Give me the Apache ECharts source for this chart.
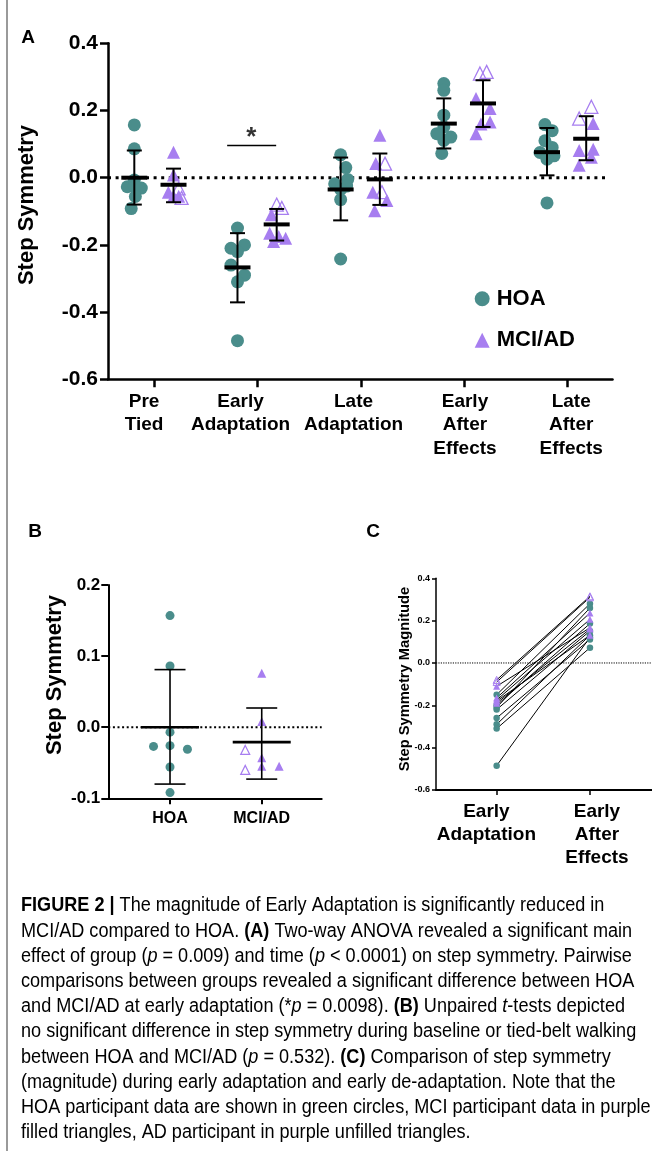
<!DOCTYPE html>
<html>
<head>
<meta charset="utf-8">
<script src="https://cdn.jsdelivr.net/npm/echarts@6/dist/echarts.min.js"></script>
<style>
html, body { margin: 0; padding: 0; background: #fff; }
#main { width: 652px; height: 1151px; }
</style>
</head>
<body>
<div id="main"></div>
<script>
// ---------- data ----------
var timePoints = ['Pre\nTied', 'Early\nAdaptation', 'Late\nAdaptation', 'Early\nAfter\nEffects', 'Late\nAfter\nEffects'];
var groupsB = ['HOA', 'MCI/AD'];
var timesC = ['Early\nAdaptation', 'Early\nAfter\nEffects'];
var yTicksA = [-0.6, -0.4, -0.2, 0.0, 0.2, 0.4];
var yTicksB = [-0.1, 0.0, 0.1, 0.2];
var yTicksC = [-0.6, -0.4, -0.2, 0.0, 0.2, 0.4];

// HOA participants (same order in every array)
var hoaPre        = [0.157, 0.086, -0.007, -0.027, -0.026, -0.031, -0.056, -0.092];
var hoaEarlyAdapt = [-0.15, -0.20, -0.21, -0.22, -0.26, -0.29, -0.31, -0.485];
var hoaLateAdapt  = [0.068, 0.03, -0.005, -0.018, -0.025, -0.035, -0.065, -0.242];
var hoaEarlyAE    = [0.28, 0.186, 0.26, 0.151, 0.111, 0.131, 0.072, 0.121];
var hoaLateAE     = [0.158, 0.14, 0.11, 0.09, 0.075, 0.065, 0.055, -0.075];

// MCI participants (filled triangles)
var mciPre        = [0.076, 0.008, -0.043, -0.055, -0.055];
var mciEarlyAdapt = [-0.11, -0.165, -0.175, -0.18, -0.19];
var mciLateAdapt  = [0.126, 0.042, -0.043, -0.068, -0.098];
var mciEarlyAE    = [0.166, 0.236, 0.206, 0.131, 0.16];
var mciLateAE     = [0.161, 0.081, 0.061, 0.037, 0.085];

// AD participants (unfilled triangles)
var adPre        = [-0.032, -0.060];
var adEarlyAdapt = [-0.08, -0.09];
var adLateAdapt  = [0.042, -0.043];
var adEarlyAE    = [0.315, 0.31];
var adLateAE     = [0.211, 0.176];

// group mean and error bar ends
var hoaMean   = [0.0, -0.267, -0.035, 0.161, 0.076];
var hoaLow    = [-0.080, -0.371, -0.127, 0.087, 0.007];
var hoaHigh   = [0.081, -0.165, 0.060, 0.236, 0.148];
var mciadMean = [-0.021, -0.139, -0.005, 0.221, 0.116];
var mciadLow  = [-0.073, -0.187, -0.081, 0.151, 0.052];
var mciadHigh = [0.027, -0.093, 0.072, 0.290, 0.183];

// significance bracket over Early Adaptation
var sigBarA = [[0.705, 0.096], [1.18, 0.096]];
var sigStarA = [0.94, 0.118];

// ---------- layout / style ----------
var teal = '#4a8d8b';
var purple = '#a77ef0';
var font = '"Liberation Sans", Arial, Helvetica, sans-serif';
var capFont = '"Liberation Sans", Arial, sans-serif';

var hoaShift = -0.195, mciShift = 0.185;
// horizontal scatter of the points inside each column (axis units)
var jitHoa = [
  [0, 0, 0, -0.068, 0, 0.068, 0.01, -0.03],
  [0, 0.068, -0.063, 0, -0.063, 0.068, 0, 0],
  [0, 0.05, 0.068, -0.058, 0.058, 0, 0, 0],
  [0, 0, 0, 0, 0, -0.068, -0.02, 0.068],
  [-0.02, 0.05, -0.02, 0.05, -0.068, 0.068, 0, 0]
];
var jitMci = [
  [0, 0, -0.05, 0, 0.05],
  [-0.05, -0.068, 0.02, 0.087, -0.03],
  [0, -0.04, -0.068, 0.068, -0.05],
  [0.068, -0.068, 0.068, -0.068, -0.02],
  [0.068, -0.068, 0.05, -0.068, 0.068]
];
var jitAd = [[0.05, 0.078], [0, 0.05], [0.05, 0.02], [0.035, -0.03], [0.05, -0.068]];
var jitHoaB = [0, 0, 0, -0.18, 0, 0.19, 0, 0];
var jitMciB = [0, 0, 0, 0, 0.19];
var jitAdB = [-0.18, -0.18];
var labelPosA = [-0.1, 0.835, 1.93, 3.01, 4.04];
var labelPosC = [-0.11, 1.075];

var hoaAll = [hoaPre, hoaEarlyAdapt, hoaLateAdapt, hoaEarlyAE, hoaLateAE];
var mciAll = [mciPre, mciEarlyAdapt, mciLateAdapt, mciEarlyAE, mciLateAE];
var adAll  = [adPre, adEarlyAdapt, adLateAdapt, adEarlyAE, adLateAE];

function pts(vals, jit, shift) {
  var out = [];
  for (var t = 0; t < vals.length; t++) {
    for (var i = 0; i < vals[t].length; i++) {
      out.push([t + shift + jit[t][i], vals[t][i]]);
    }
  }
  return out;
}
function ptsOne(vals, jit, x) {
  return vals.map(function (v, i) { return [x + jit[i], v]; });
}
function fmt1(v) { return Math.abs(v) < 1e-9 ? '0.0' : v.toFixed(1); }
function pickLabel(list, pos) {
  return function (v) {
    var best = 0;
    for (var i = 1; i < pos.length; i++) {
      if (Math.abs(pos[i] - v) < Math.abs(pos[best] - v)) best = i;
    }
    return list[best];
  };
}

function errRender(meanHalf, capHalf, meanW, barW) {
  return function (params, api) {
    var x = api.value(0);
    var m = api.coord([x, api.value(1)]);
    var lo = api.coord([x, api.value(2)]);
    var hi = api.coord([x, api.value(3)]);
    var st = { stroke: '#000', lineWidth: barW };
    return {
      type: 'group',
      children: [
        { type: 'line', shape: { x1: m[0], y1: hi[1], x2: m[0], y2: lo[1] }, style: st },
        { type: 'line', shape: { x1: m[0] - capHalf, y1: hi[1], x2: m[0] + capHalf, y2: hi[1] }, style: st },
        { type: 'line', shape: { x1: m[0] - capHalf, y1: lo[1], x2: m[0] + capHalf, y2: lo[1] }, style: st },
        { type: 'line', shape: { x1: m[0] - meanHalf, y1: m[1], x2: m[0] + meanHalf, y2: m[1] }, style: { stroke: '#000', lineWidth: meanW } }
      ]
    };
  };
}

var errA = [];
for (var t = 0; t < timePoints.length; t++) {
  errA.push([t + hoaShift, hoaMean[t], hoaLow[t], hoaHigh[t]]);
  errA.push([t + mciShift, mciadMean[t], mciadLow[t], mciadHigh[t]]);
}
var errB = [
  [0, hoaMean[0], hoaLow[0], hoaHigh[0]],
  [1, mciadMean[0], mciadLow[0], mciadHigh[0]]
];

var lbl = { color: '#000', fontWeight: 'bold', fontFamily: font };
function axisLineStyle(w) { return { show: true, onZero: false, lineStyle: { color: '#000', width: w } }; }

var xRangeA = [-0.45, 4.44], xRangeB = [-0.673, 1.654], xRangeC = [-0.65, 1.665];

var series = [
  // ---- panel A ----
  { type: 'line', xAxisIndex: 0, yAxisIndex: 0, data: [[xRangeA[0], 0], [4.4, 0]], symbol: 'none', silent: true,
    lineStyle: { color: '#000', width: 3, type: [3, 4.6] }, z: 1 },
  { name: 'HOA', type: 'scatter', xAxisIndex: 0, yAxisIndex: 0, symbol: 'circle', symbolSize: 13,
    itemStyle: { color: teal, opacity: 1 }, data: pts(hoaAll, jitHoa, hoaShift), z: 2 },
  { name: 'MCI/AD', type: 'scatter', xAxisIndex: 0, yAxisIndex: 0, symbol: 'triangle', symbolSize: 13,
    itemStyle: { color: purple, opacity: 1 }, data: pts(mciAll, jitMci, mciShift), z: 2 },
  { name: 'AD', type: 'scatter', xAxisIndex: 0, yAxisIndex: 0, symbol: 'triangle', symbolSize: 13,
    itemStyle: { color: 'rgba(255,255,255,0)', borderColor: purple, borderWidth: 1.3, opacity: 1 },
    data: pts(adAll, jitAd, mciShift), z: 2 },
  { type: 'custom', xAxisIndex: 0, yAxisIndex: 0, renderItem: errRender(13, 7.5, 4, 2),
    encode: { x: 0, y: [1, 2, 3] }, data: errA, z: 3 },
  { type: 'line', xAxisIndex: 0, yAxisIndex: 0, data: sigBarA, symbol: 'none', silent: true,
    lineStyle: { color: '#000', width: 1.5 }, z: 3 },
  { type: 'scatter', xAxisIndex: 0, yAxisIndex: 0, data: [sigStarA], symbolSize: 1,
    itemStyle: { color: 'rgba(0,0,0,0)' },
    label: { show: true, position: 'inside', formatter: '*', color: '#000', fontSize: 26, fontWeight: 'bold', fontFamily: font }, z: 3 },

  // ---- panel B ----
  { type: 'line', xAxisIndex: 1, yAxisIndex: 1, data: [[xRangeB[0], 0], [xRangeB[1], 0]], symbol: 'none', silent: true,
    lineStyle: { color: '#000', width: 2, type: [2, 2.6] }, z: 1 },
  { name: 'HOA-B', type: 'scatter', xAxisIndex: 1, yAxisIndex: 1, symbol: 'circle', symbolSize: 9,
    itemStyle: { color: teal, opacity: 1 }, data: ptsOne(hoaPre, jitHoaB, 0), z: 2 },
  { name: 'MCI-B', type: 'scatter', xAxisIndex: 1, yAxisIndex: 1, symbol: 'triangle', symbolSize: 9,
    itemStyle: { color: purple, opacity: 1 }, data: ptsOne(mciPre, jitMciB, 1), z: 2 },
  { name: 'AD-B', type: 'scatter', xAxisIndex: 1, yAxisIndex: 1, symbol: 'triangle', symbolSize: 9,
    itemStyle: { color: 'rgba(255,255,255,0)', borderColor: purple, borderWidth: 1.2, opacity: 1 },
    data: ptsOne(adPre, jitAdB, 1), z: 2 },
  { type: 'custom', xAxisIndex: 1, yAxisIndex: 1, renderItem: errRender(29, 15.5, 2.6, 1.6),
    encode: { x: 0, y: [1, 2, 3] }, data: errB, z: 3 },

  // ---- panel C ----
  { type: 'line', xAxisIndex: 2, yAxisIndex: 2, data: [[xRangeC[0], 0], [xRangeC[1], 0]], symbol: 'none', silent: true,
    lineStyle: { color: '#000', width: 1, type: [1.2, 1.2] }, z: 1 }
];

function pairLines(a, b) {
  for (var i = 0; i < a.length; i++) {
    series.push({ type: 'line', xAxisIndex: 2, yAxisIndex: 2, data: [[0, a[i]], [1, b[i]]], symbol: 'none',
      silent: true, lineStyle: { color: '#000', width: 1 }, z: 2 });
  }
}
pairLines(hoaEarlyAdapt, hoaEarlyAE);
pairLines(mciEarlyAdapt, mciEarlyAE);
pairLines(adEarlyAdapt, adEarlyAE);

function pairPts(a, b) {
  return a.map(function (v) { return [0, v]; }).concat(b.map(function (v) { return [1, v]; }));
}
series.push(
  { name: 'HOA-C', type: 'scatter', xAxisIndex: 2, yAxisIndex: 2, symbol: 'circle', symbolSize: 6.5,
    itemStyle: { color: teal, opacity: 1 }, data: pairPts(hoaEarlyAdapt, hoaEarlyAE), z: 3 },
  { name: 'MCI-C', type: 'scatter', xAxisIndex: 2, yAxisIndex: 2, symbol: 'triangle', symbolSize: 7,
    itemStyle: { color: purple, opacity: 1 }, data: pairPts(mciEarlyAdapt, mciEarlyAE), z: 3 },
  { name: 'AD-C', type: 'scatter', xAxisIndex: 2, yAxisIndex: 2, symbol: 'triangle', symbolSize: 7,
    itemStyle: { color: 'rgba(255,255,255,0)', borderColor: purple, borderWidth: 1, opacity: 1 },
    data: pairPts(adEarlyAdapt, adEarlyAE), z: 3 }
);

// caption, one entry per printed line
var capLines = [
  '{b|FIGURE 2 |}{n| The magnitude of Early Adaptation is significantly reduced in}',
  '{n|MCI/AD compared to HOA. }{b|(A)}{n| Two-way ANOVA revealed a significant main}',
  '{n|effect of group (}{i|p}{n| = 0.009) and time (}{i|p}{n| < 0.0001) on step symmetry. Pairwise}',
  '{n|comparisons between groups revealed a significant difference between HOA}',
  '{n|and MCI/AD at early adaptation (*}{i|p}{n| = 0.0098). }{b|(B)}{n| Unpaired }{i|t}{n|-tests depicted}',
  '{n|no significant difference in step symmetry during baseline or tied-belt walking}',
  '{n|between HOA and MCI/AD (}{i|p}{n| = 0.532). }{b|(C)}{n| Comparison of step symmetry}',
  '{n|(magnitude) during early adaptation and early de-adaptation. Note that the}',
  '{n|HOA participant data are shown in green circles, MCI participant data in purple}',
  '{n|filled triangles, AD participant in purple unfilled triangles.}'
];
var capSize = 19.5, capColor = '#333';
var capRich = {
  n: { fontFamily: capFont, fontSize: capSize, color: capColor },
  b: { fontFamily: capFont, fontSize: capSize, color: '#1e1e1e', fontWeight: 'bold' },
  i: { fontFamily: capFont, fontSize: capSize, color: capColor, fontStyle: 'italic' }
};

var graphics = [
  { type: 'line', shape: { x1: 7, y1: 0, x2: 7, y2: 1151 }, style: { stroke: '#9a9a9a', lineWidth: 2 } },
  { type: 'text', x: 28, y: 38, style: { text: 'A', font: 'bold 19px ' + font, fill: '#000', align: 'center', verticalAlign: 'middle' } },
  { type: 'text', x: 35, y: 532, style: { text: 'B', font: 'bold 19px ' + font, fill: '#000', align: 'center', verticalAlign: 'middle' } },
  { type: 'text', x: 373, y: 532, style: { text: 'C', font: 'bold 19px ' + font, fill: '#000', align: 'center', verticalAlign: 'middle' } },
  { type: 'text', x: 26.7, y: 205, rotation: Math.PI / 2, style: { text: 'Step Symmetry', font: 'bold 22px ' + font, fill: '#000', align: 'center', verticalAlign: 'middle' } },
  { type: 'text', x: 55, y: 675, rotation: Math.PI / 2, style: { text: 'Step Symmetry', font: 'bold 22px ' + font, fill: '#000', align: 'center', verticalAlign: 'middle' } },
  { type: 'text', x: 405, y: 679, rotation: Math.PI / 2, style: { text: 'Step Symmetry Magnitude', font: 'bold 14.7px ' + font, fill: '#000', align: 'center', verticalAlign: 'middle' } }
];
capLines.forEach(function (line, k) {
  graphics.push({ type: 'text', x: 21, y: 906 + k * 25.2, scaleX: 0.928,
    style: { text: line, rich: capRich, align: 'left', verticalAlign: 'middle' } });
});

var option = {
  animation: false,
  backgroundColor: '#fff',
  textStyle: { fontFamily: font },
  grid: [
    { left: 108, top: 43.3, width: 504.5, height: 336, outerBoundsMode: 'none' },
    { left: 108.3, top: 585, width: 213.4, height: 213.3, outerBoundsMode: 'none' },
    { left: 436, top: 578.3, width: 216, height: 211.7, outerBoundsMode: 'none' }
  ],
  xAxis: [
    { gridIndex: 0, type: 'value', min: xRangeA[0], max: xRangeA[1],
      axisLine: axisLineStyle(2.5),
      axisTick: { show: true, customValues: [0, 1, 2, 3, 4], length: 8, lineStyle: { color: '#000', width: 2.5 } },
      axisLabel: Object.assign({ customValues: labelPosA, formatter: pickLabel(timePoints, labelPosA), margin: 11,
        fontSize: 19, lineHeight: 23.3, align: 'center', verticalAlign: 'top' }, lbl),
      splitLine: { show: false } },
    { gridIndex: 1, type: 'value', min: xRangeB[0], max: xRangeB[1],
      axisLine: axisLineStyle(2),
      axisTick: { show: true, customValues: [0, 1], length: 6, lineStyle: { color: '#000', width: 2 } },
      axisLabel: Object.assign({ customValues: [0, 1], formatter: pickLabel(groupsB, [0, 1]), margin: 11,
        fontSize: 16, lineHeight: 18, align: 'center', verticalAlign: 'top' }, lbl),
      splitLine: { show: false } },
    { gridIndex: 2, type: 'value', min: xRangeC[0], max: xRangeC[1],
      axisLine: axisLineStyle(2),
      axisTick: { show: true, customValues: [0, 1], length: 5, lineStyle: { color: '#000', width: 1.5 } },
      axisLabel: Object.assign({ customValues: labelPosC, formatter: pickLabel(timesC, labelPosC), margin: 10,
        fontSize: 19, lineHeight: 23.3, align: 'center', verticalAlign: 'top' }, lbl),
      splitLine: { show: false } }
  ],
  yAxis: [
    { gridIndex: 0, type: 'value', min: -0.6, max: 0.4,
      axisLine: axisLineStyle(2.5),
      axisTick: { show: true, customValues: yTicksA, length: 8, lineStyle: { color: '#000', width: 2.5 } },
      axisLabel: Object.assign({ customValues: yTicksA, formatter: fmt1, margin: 10, fontSize: 21 }, lbl),
      splitLine: { show: false } },
    { gridIndex: 1, type: 'value', min: -0.1, max: 0.2,
      axisLine: axisLineStyle(2),
      axisTick: { show: true, customValues: yTicksB, length: 7, lineStyle: { color: '#000', width: 2 } },
      axisLabel: Object.assign({ customValues: yTicksB, formatter: fmt1, margin: 8, fontSize: 17 }, lbl),
      splitLine: { show: false } },
    { gridIndex: 2, type: 'value', min: -0.6, max: 0.4,
      axisLine: axisLineStyle(1.5),
      axisTick: { show: true, customValues: yTicksC, length: 4, lineStyle: { color: '#000', width: 1.5 } },
      axisLabel: Object.assign({ customValues: yTicksC, formatter: fmt1, margin: 6, fontSize: 9 }, lbl),
      splitLine: { show: false } }
  ],
  legend: {
    orient: 'vertical', left: 469.7, top: 282.7, itemWidth: 15, itemHeight: 15, itemGap: 19.6,
    selectedMode: false,
    textStyle: { fontSize: 22, fontWeight: 'bold', color: '#000', lineHeight: 22, fontFamily: font, padding: [0, 0, 0, 2] },
    data: [{ name: 'HOA', icon: 'circle' }, { name: 'MCI/AD', icon: 'triangle' }]
  },
  graphic: graphics,
  series: series
};

var chart = echarts.init(document.getElementById('main'));
chart.setOption(option);
window.addEventListener('resize', function () { chart.resize(); });
</script>
</body>
</html>
